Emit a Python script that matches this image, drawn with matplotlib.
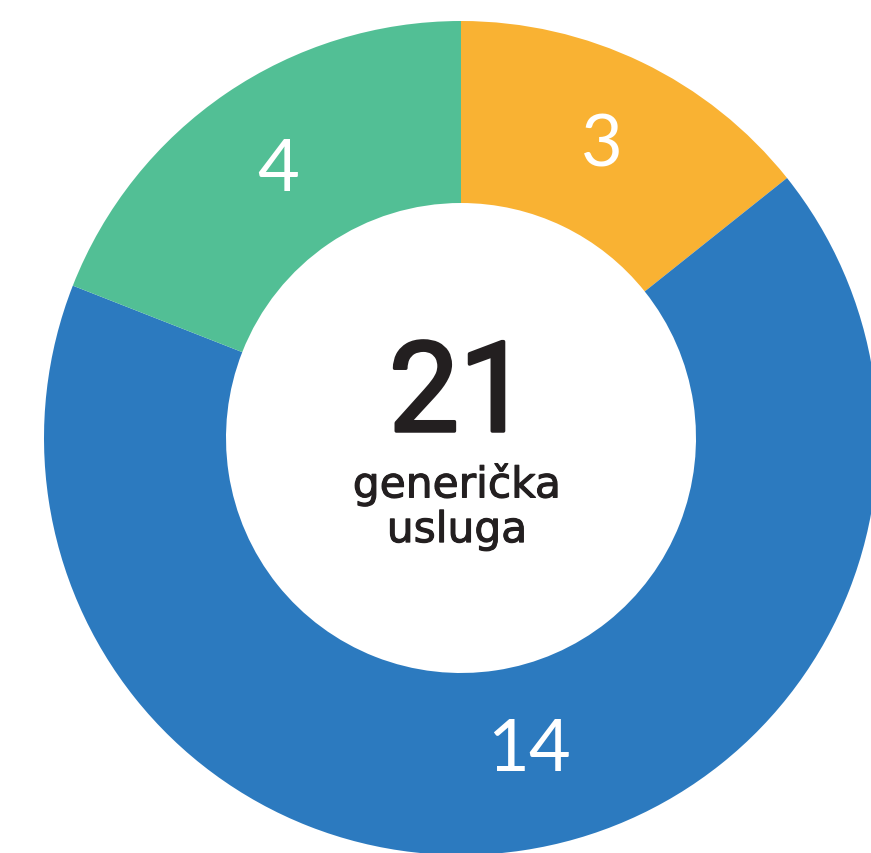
import matplotlib.pyplot as plt
import matplotlib.patheffects as pe

# Data
categories = ["A", "B", "C"]
values = [3, 14, 4]
colors = ["#F9B233", "#2C7ABF", "#52BF95"]
total_label = "21"
center_text = "generička\nusluga"

plt.rcParams["font.family"] = ["Lato", "DejaVu Sans"]

fig = plt.figure(figsize=(8.71, 8.54), dpi=100)
ax = fig.add_axes([0, 0, 1, 1])

cx, cy = 461, 854 - 439
radius = 417

wedges, texts = ax.pie(
    values,
    colors=colors,
    startangle=90,
    counterclock=False,
    center=(cx, cy),
    radius=radius,
    labels=[str(v) for v in values],
    labeldistance=0.78,
    wedgeprops=dict(width=radius - 235, linewidth=0),
    textprops=dict(color="white", fontsize=52, ha="center", va="center",
                   family=["Lato", "DejaVu Sans"], fontweight="normal"),
    frame=True,
)
# nudge the big label a bit, like the original layout
x14, y14 = texts[1].get_position()
texts[1].set_position((x14 + 20, y14 + 10))

ax.set_xlim(0, 871)
ax.set_ylim(0, 854)
ax.set_aspect("equal")
ax.axis("off")

dark = "#231F20"
ax.text(cx - 2, 854 - 398, total_label, ha="center", va="center",
        fontsize=90, color=dark, family=["Roboto", "DejaVu Sans"],
        path_effects=[pe.withStroke(linewidth=2.5, foreground=dark)])
ax.text(cx - 4, 854 - 508, center_text, ha="center", va="center",
        fontsize=30.5, color=dark, linespacing=1.08,
        family=["DejaVu Sans"],
        path_effects=[pe.withStroke(linewidth=0.8, foreground=dark)])

fig.savefig("out.png", dpi=100)
